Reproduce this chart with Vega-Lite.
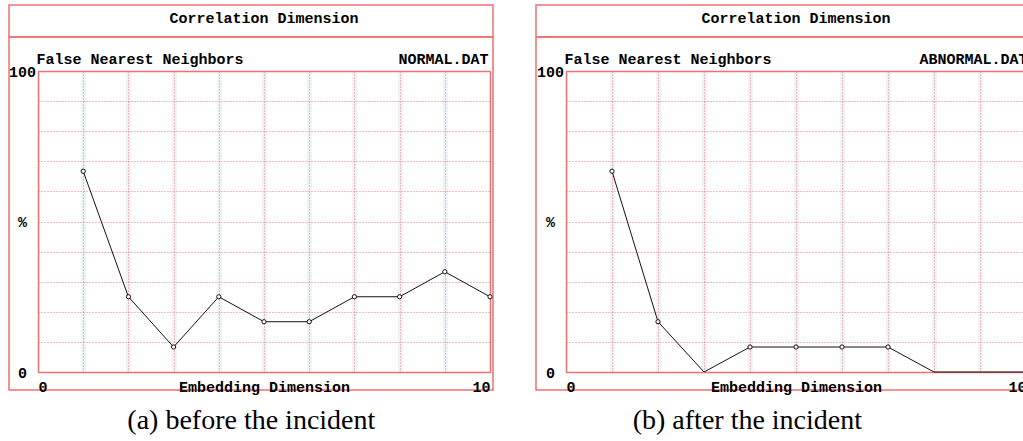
{
  "$schema": "https://vega.github.io/schema/vega-lite/v6.json",
  "padding": {"left": 7, "top": 4, "right": 0, "bottom": 0},
  "background": "white",
  "spacing": 40,
  "config": {
    "view": {"stroke": "#f07070", "strokeWidth": 1.5},
    "axis": {
      "labelFont": "Liberation Mono", "labelFontSize": 15, "labelFontWeight": "bold", "labelColor": "black",
      "titleFont": "Liberation Mono", "titleFontSize": 15, "titleFontWeight": "bold", "titleColor": "black",
      "domainColor": "#f07070", "domainWidth": 1.5, "ticks": false, "tickSize": 0,
      "gridColor": "#f07878", "gridDash": [1, 2], "gridWidth": 1, "labelOverlap": false
    },
    "title": {"font": "Liberation Serif", "fontSize": 28, "fontWeight": "normal", "color": "black"}
  },
  "hconcat": [
    {
      "spacing": 0,
      "bounds": "flush",
      "title": {"text": "(a) before the incident", "orient": "bottom", "anchor": "middle", "offset": 12},
      "vconcat": [
        {
          "width": 484, "height": 32,
          "view": {"stroke": "#f07070", "strokeWidth": 1.5, "fill": "white"},
          "data": {"values": [{"label": "Correlation Dimension"}]},
          "mark": {"type": "text", "font": "Liberation Mono", "fontSize": 15, "fontWeight": "bold", "dx": 13, "dy": -3, "color": "black"},
          "encoding": {"text": {"field": "label"}}
        },
        {
          "width": 484, "height": 353,
          "data": {"values": [
            {"dim": 1, "pct": 66.7}, {"dim": 2, "pct": 25}, {"dim": 3, "pct": 8.3}, {"dim": 4, "pct": 25},
            {"dim": 5, "pct": 16.7}, {"dim": 6, "pct": 16.7}, {"dim": 7, "pct": 25}, {"dim": 8, "pct": 25},
            {"dim": 9, "pct": 33.3}, {"dim": 10, "pct": 25}
          ]},
          "resolve": {"axis": {"x": "independent", "y": "independent"}},
          "layer": [
            {
              "mark": {"type": "line", "color": "#111111", "strokeWidth": 1},
              "encoding": {
                "x": {"field": "dim", "type": "quantitative",
                  "scale": {"domain": [0, 10], "range": [29, 481], "nice": false, "zero": false},
                  "axis": {"orient": "top", "offset": -34, "values": [1,2,3,4,5,6,7,8,9], "grid": true,
                    "gridColor": "#f1f4f7", "gridWidth": 5, "gridDash": [], "domain": false,
                    "labels": false, "title": null}},
                "y": {"field": "pct", "type": "quantitative",
                  "scale": {"domain": [0, 100], "range": [335, 34], "nice": false},
                  "axis": {"orient": "left", "offset": -29, "values": [0,10,20,30,40,50,60,70,80,90,100], "grid": true,
                    "labelExpr": "datum.value == 0 || datum.value == 100 ? datum.label : ''",
                    "labelAlign": "center", "labelBaseline": "middle", "labelPadding": 16,
                    "title": "%", "titleAngle": 0, "titleX": -16, "titleAlign": "center", "titleBaseline": "middle"}}
              }
            },
            {
              "transform": [{"filter": "datum.pct > 0"}],
              "mark": {"type": "point", "shape": "circle", "filled": false, "fill": "white", "stroke": "#111111", "strokeWidth": 1, "size": 18, "opacity": 1},
              "encoding": {
                "x": {"field": "dim", "type": "quantitative",
                  "scale": {"domain": [0, 10], "range": [29, 481], "nice": false, "zero": false},
                  "axis": {"orient": "top", "offset": -34, "values": [0,1,2,3,4,5,6,7,8,9,10], "labels": false, "grid": true,
                    "title": "False Nearest Neighbors", "titleX": 27, "titleY": -13, "titleAlign": "left", "titleBaseline": "middle"}},
                "y": {"field": "pct", "type": "quantitative",
                  "scale": {"domain": [0, 100], "range": [335, 34], "nice": false},
                  "axis": {"orient": "right", "offset": -3, "labels": false, "grid": false,
                    "title": "NORMAL.DAT", "titleAngle": 0, "titleX": -2, "titleY": 21, "titleAlign": "right", "titleBaseline": "middle"}}
              }
            },
            {
              "transform": [{"filter": "datum.dim == 0 || datum.dim == 10"}],
              "mark": {"type": "point", "opacity": 0},
              "encoding": {
                "x": {"field": "dim", "type": "quantitative",
                  "scale": {"domain": [0, 10], "range": [29, 481], "nice": false, "zero": false},
                  "axis": {"orient": "bottom", "offset": -18, "values": [0, 10], "grid": false,
                    "labelFlush": true, "labelBaseline": "top", "labelPadding": 7,
                    "title": "Embedding Dimension", "titleY": 7, "titleBaseline": "top"}}
              }
            }
          ]
        }
      ]
    },
    {
      "spacing": 0,
      "bounds": "flush",
      "title": {"text": "(b) after the incident", "orient": "bottom", "anchor": "middle", "offset": 12, "dx": -35},
      "vconcat": [
        {
          "width": 492, "height": 32,
          "view": {"stroke": "#f07070", "strokeWidth": 1.5, "fill": "white"},
          "data": {"values": [{"label": "Correlation Dimension"}]},
          "mark": {"type": "text", "font": "Liberation Mono", "fontSize": 15, "fontWeight": "bold", "dx": 14, "dy": -3, "color": "black"},
          "encoding": {"text": {"field": "label"}}
        },
        {
          "width": 492, "height": 353,
          "data": {"values": [
            {"dim": 1, "pct": 66.7}, {"dim": 2, "pct": 16.7}, {"dim": 3, "pct": 0}, {"dim": 4, "pct": 8.3},
            {"dim": 5, "pct": 8.3}, {"dim": 6, "pct": 8.3}, {"dim": 7, "pct": 8.3}, {"dim": 8, "pct": 0},
            {"dim": 9, "pct": 0}, {"dim": 10, "pct": 0}
          ]},
          "resolve": {"axis": {"x": "independent", "y": "independent"}},
          "layer": [
            {
              "mark": {"type": "line", "color": "#111111", "strokeWidth": 1},
              "encoding": {
                "x": {"field": "dim", "type": "quantitative",
                  "scale": {"domain": [0, 10], "range": [30, 490], "nice": false, "zero": false},
                  "axis": {"orient": "top", "offset": -34, "values": [1,2,3,4,5,6,7,8,9], "grid": true,
                    "gridColor": "#f1f4f7", "gridWidth": 5, "gridDash": [], "domain": false,
                    "labels": false, "title": null}},
                "y": {"field": "pct", "type": "quantitative",
                  "scale": {"domain": [0, 100], "range": [335, 34], "nice": false},
                  "axis": {"orient": "left", "offset": -30, "values": [0,10,20,30,40,50,60,70,80,90,100], "grid": true,
                    "labelExpr": "datum.value == 0 || datum.value == 100 ? datum.label : ''",
                    "labelAlign": "center", "labelBaseline": "middle", "labelPadding": 16,
                    "title": "%", "titleAngle": 0, "titleX": -16, "titleAlign": "center", "titleBaseline": "middle"}}
              }
            },
            {
              "transform": [{"filter": "datum.pct > 0"}],
              "mark": {"type": "point", "shape": "circle", "filled": false, "fill": "white", "stroke": "#111111", "strokeWidth": 1, "size": 18, "opacity": 1},
              "encoding": {
                "x": {"field": "dim", "type": "quantitative",
                  "scale": {"domain": [0, 10], "range": [30, 490], "nice": false, "zero": false},
                  "axis": {"orient": "top", "offset": -34, "values": [0,1,2,3,4,5,6,7,8,9,10], "labels": false, "grid": true,
                    "title": "False Nearest Neighbors", "titleX": 28, "titleY": -13, "titleAlign": "left", "titleBaseline": "middle"}},
                "y": {"field": "pct", "type": "quantitative",
                  "scale": {"domain": [0, 100], "range": [335, 34], "nice": false},
                  "axis": {"orient": "right", "offset": -2, "labels": false, "grid": false,
                    "title": "ABNORMAL.DAT", "titleAngle": 0, "titleX": 1, "titleY": 21, "titleAlign": "right", "titleBaseline": "middle"}}
              }
            },
            {
              "transform": [{"filter": "datum.dim == 0 || datum.dim == 10"}],
              "mark": {"type": "point", "opacity": 0},
              "encoding": {
                "x": {"field": "dim", "type": "quantitative",
                  "scale": {"domain": [0, 10], "range": [30, 490], "nice": false, "zero": false},
                  "axis": {"orient": "bottom", "offset": -18, "values": [0, 10], "grid": false,
                    "labelFlush": true, "labelBaseline": "top", "labelPadding": 7,
                    "title": "Embedding Dimension", "titleY": 7, "titleBaseline": "top"}}
              }
            }
          ]
        }
      ]
    }
  ]
}
